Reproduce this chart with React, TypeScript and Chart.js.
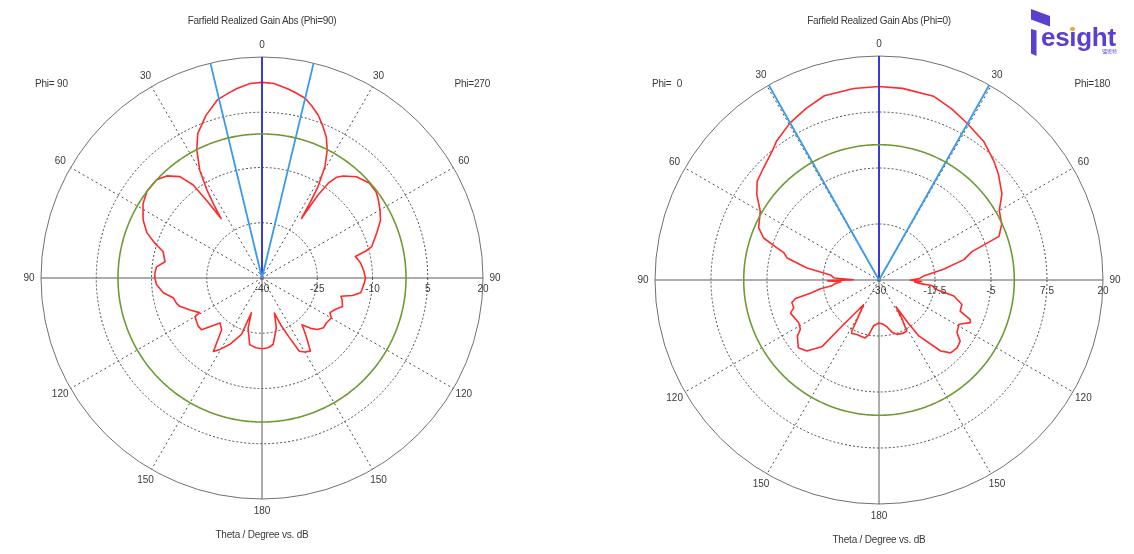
import React, { useEffect, useRef } from 'react';
import { Chart, registerables } from 'chart.js';

Chart.register(...registerables);

// ---------- shared ----------
const STEP = 0.5; // degrees per radar slot
const SLOTS = 720;
const ANGLE_TICKS = [0, 30, 60, 90, 120, 150, 180];

// ---------- left plot: Farfield Realized Gain Abs (Phi=90) ----------
const leftTitle = 'Farfield Realized Gain Abs (Phi=90)';
const leftPhiLeft = 'Phi= 90';
const leftPhiRight = 'Phi=270';
const leftTicks = [-40, -25, -10, 5, 20];
const leftTickLabels = ['-40', '-25', '-10', '5', '20'];
// right half of the plot (Phi=270)
const leftPhi270Theta = [0, 3.5, 7.5, 10, 13.5, 16, 19, 21.5, 24.5, 27, 29.5, 31.5, 32.5, 33.5, 34, 35, 36.5, 38.5, 43, 48.5, 53, 56, 60, 64, 68.5, 74, 75.5, 77, 79, 81.5, 86, 90, 93, 98.5, 101, 103, 105, 109.5, 113, 117, 120, 125, 129, 133, 136, 139.5, 141.5, 143.5, 146.5, 150, 153, 155.5, 158, 160.5, 164, 170.5, 175, 180];
const leftPhi270Gain = [13.1, 12.9, 11.9, 11.2, 10.2, 8.7, 6.8, 4.7, 2.1, -1.0, -5.3, -10.9, -15.5, -20.6, -13.0, -8.5, -6.0, -4.6, -2.4, -1.1, -1.2, -1.9, -3.0, -4.2, -6.5, -9.0, -11.0, -14.0, -13.5, -12.9, -12.3, -11.9, -12.2, -12.9, -15.0, -18.0, -17.5, -16.8, -18.3, -19.3, -18.3, -18.7, -18.5, -19.5, -21.0, -23.3, -21.5, -19.5, -16.2, -16.8, -17.7, -22.5, -26.0, -29.9, -25.9, -21.7, -21.0, -20.8];
// left half of the plot (Phi=90)
const leftPhi90Theta = [0, 3.5, 7.5, 10, 14, 19, 24, 27, 30, 32, 33.5, 34.5, 35.5, 36.5, 39, 43, 47, 53, 58, 64, 68.5, 72, 75, 80.5, 84, 87, 90, 93.5, 98.5, 102.5, 106.5, 109, 114, 119, 120, 127, 130.5, 137, 142, 146.5, 149.5, 154, 160, 163, 164.5, 169.5, 175, 180];
const leftPhi90Gain = [13.1, 12.9, 11.9, 11.1, 9.9, 6.7, 2.9, -1.0, -6.2, -11.7, -16.8, -20.4, -14.6, -8.6, -4.6, -2.1, -0.9, -0.9, -1.9, -4.1, -6.4, -9.4, -12.2, -13.3, -11.2, -10.9, -10.9, -11.3, -12.9, -15.3, -15.8, -16.4, -18.6, -20.6, -19.0, -18.3, -18.4, -23.3, -22.2, -16.1, -17.5, -19.9, -23.7, -30.1, -25.9, -21.6, -21.0, -20.8];
const leftMainLobeDir = 0;
const leftHalfPowerDirs = [13.5, -13.5];
const leftSideLobeLevel = -0.9;

// ---------- right plot: Farfield Realized Gain Abs (Phi=0) ----------
const rightTitle = 'Farfield Realized Gain Abs (Phi=0)';
const rightPhiLeft = 'Phi=  0';
const rightPhiRight = 'Phi=180';
const rightTicks = [-30, -17.5, -5, 7.5, 20];
const rightTickLabels = ['-30', '-17.5', '-5', '7.5', '20'];
// right half of the plot (Phi=180)
const rightPhi180Theta = [0, 7, 16.5, 23, 29, 37, 44, 48.5, 55, 60, 65.5, 70, 71.5, 73, 76.5, 80.5, 85, 88, 90.5, 92, 93, 95, 96, 99.5, 102, 106.5, 111, 113.5, 115, 119, 124, 127, 131, 135.5, 139, 144.5, 146, 147.5, 149.5, 151.5, 156.5, 161.5, 166, 170, 174, 180];
const rightPhi180Gain = [13.2, 13.1, 12.8, 11.5, 10.2, 8.8, 6.9, 5.6, 3.5, 1.0, 0.1, -1.5, -5.3, -8.3, -10.5, -15.4, -20.0, -21.0, -23.0, -20.5, -22.0, -20.7, -18.1, -16.9, -12.9, -10.7, -10.6, -7.8, -7.5, -9.6, -9.0, -7.3, -6.9, -7.2, -9.0, -14.6, -18.6, -22.9, -19.8, -17.0, -17.0, -17.2, -18.0, -19.3, -20.0, -20.4];
// left half of the plot (Phi=0)
const rightPhi0Theta = [0, 7.5, 16.5, 23, 29.5, 36.5, 39.5, 46, 51, 55, 60, 66.5, 70, 72.5, 74, 76.5, 80.5, 84, 87.5, 89.5, 91, 92.5, 95, 97, 98.5, 101, 102.5, 104.5, 108, 110.5, 118, 122, 124.5, 130, 134.5, 139.5, 141.5, 148, 151, 152, 153, 158, 162, 166.5, 169.5, 173.5, 180];
const rightPhi0Gain = [13.2, 13.1, 12.9, 11.6, 10.3, 8.5, 7.4, 5.9, 5.0, 3.3, 0.6, -0.7, -2.6, -6.1, -7.9, -8.9, -13.7, -19.1, -20.0, -24.3, -18.5, -21.5, -20.0, -19.4, -16.8, -14.4, -10.9, -9.9, -10.0, -8.9, -9.7, -9.3, -7.9, -6.5, -7.4, -10.5, -17.3, -23.5, -19.9, -17.1, -16.6, -16.9, -16.8, -16.7, -17.6, -19.8, -20.4];
const rightMainLobeDir = 0;
const rightHalfPowerDirs = [29.5, -29.5];
const rightSideLobeLevel = 0.2;

// ---------- colours / fonts ----------
const RED = '#ff2b2b';
const MAIN_BLUE = '#2f2fe0';
const LIGHT_BLUE = '#3a9ae8';
const GREEN = '#6f9a35';
const TEXT = '#3a3a3a';
const LOGO = '#5b3fd0';
const FONT = '"Liberation Sans", Arial, sans-serif';

// screen angle (deg, clockwise from top) -> radar slot
const slot = (deg: number) => ((Math.round(deg / STEP) % SLOTS) + SLOTS) % SLOTS;

function buildCut(rTheta: number[], rGain: number[], lTheta: number[], lGain: number[]) {
  const arr: (number | null)[] = new Array(SLOTS).fill(null);
  rTheta.forEach((t, i) => { arr[slot(t)] = rGain[i]; });
  lTheta.forEach((t, i) => { arr[slot(-t)] = lGain[i]; });
  return arr;
}

function buildRay(deg: number, min: number, max: number) {
  const arr: (number | null)[] = new Array(SLOTS).fill(null);
  const k = slot(deg);
  arr[k] = max;
  arr[(k + 1) % SLOTS] = min;
  return arr;
}

const polarTextPlugin = {
  id: 'polarText',
  afterDatasetsDraw(chart: any, _args: any, opts: any) {
    const s: any = chart.scales.r;
    const ctx = chart.ctx;
    ctx.save();
    ctx.font = `10px ${FONT}`;
    ctx.fillStyle = TEXT;
    ctx.textAlign = 'center';
    ctx.textBaseline = 'middle';
    (opts.ticks as number[]).forEach((v, i) => {
      ctx.fillText(opts.tickLabels[i], s.xCenter + s.getDistanceFromCenterForValue(v), s.yCenter + 11);
    });
    ANGLE_TICKS.forEach((a) => {
      const dirs = a === 0 || a === 180 ? [a] : [a, -a];
      dirs.forEach((d) => {
        const p = s.getPointPosition(slot(d), s.drawingArea + 12);
        ctx.fillText(String(a), p.x, p.y);
      });
    });
    ctx.restore();
  },
};

type PlotCfg = {
  left: number;
  padding: { left: number; right: number; top: number; bottom: number };
  ticks: number[];
  tickLabels: string[];
  rTheta: number[];
  rGain: number[];
  lTheta: number[];
  lGain: number[];
  mainDir: number;
  halfPowerDirs: number[];
  sideLobe: number;
};

function PolarPlot({ cfg }: { cfg: PlotCfg }) {
  const ref = useRef<HTMLCanvasElement>(null);
  useEffect(() => {
    const min = cfg.ticks[0];
    const max = cfg.ticks[cfg.ticks.length - 1];
    const labels = Array.from({ length: SLOTS }, (_, i) => String(i * STEP));
    const lineDs = (data: (number | null)[], color: string, width: number, spanGaps: boolean) => ({
      data,
      borderColor: color,
      backgroundColor: color,
      borderWidth: width,
      pointRadius: 0,
      fill: false,
      spanGaps,
      tension: 0,
      borderJoinStyle: 'round',
    });
    const chart = new Chart(ref.current as HTMLCanvasElement, {
      type: 'radar',
      data: {
        labels,
        datasets: [
          lineDs(new Array(SLOTS).fill(cfg.sideLobe), GREEN, 1.6, true),
          ...cfg.halfPowerDirs.map((d) => lineDs(buildRay(d, min, max), LIGHT_BLUE, 1.8, false)),
          lineDs(buildRay(cfg.mainDir, min, max), MAIN_BLUE, 1.8, false),
          lineDs(buildCut(cfg.rTheta, cfg.rGain, cfg.lTheta, cfg.lGain), RED, 1.6, true),
        ] as any,
      },
      options: {
        responsive: false,
        animation: false,
        devicePixelRatio: 1,
        events: [],
        layout: { padding: cfg.padding },
        plugins: {
          legend: { display: false },
          tooltip: { enabled: false },
          polarText: { ticks: cfg.ticks, tickLabels: cfg.tickLabels },
        } as any,
        scales: {
          r: {
            min,
            max,
            beginAtZero: false,
            ticks: { display: false, stepSize: cfg.ticks[1] - cfg.ticks[0] },
            pointLabels: { display: false },
            grid: {
              circular: true,
              color: (c: any) => (c.tick && c.tick.value === max ? '#707070' : '#4a4a4a'),
              lineWidth: 1,
            },
            border: {
              dash: (c: any) => (c.tick && c.tick.value === max ? [] : [2, 2]),
            },
            angleLines: {
              display: true,
              color: (c: any) => (c.index % 60 === 0 ? (c.index % 180 === 0 ? '#5a5a5a' : '#4a4a4a') : 'rgba(0,0,0,0)'),
              lineWidth: (c: any) => (c.index % 60 === 0 ? 1 : 0),
              borderDash: (c: any) => (c.index % 180 === 0 ? [] : [2, 3]),
            },
          } as any,
        },
      },
      plugins: [polarTextPlugin as any],
    });
    return () => chart.destroy();
  }, []);
  return (
    <canvas
      ref={ref}
      width={567}
      height={554}
      style={{ position: 'absolute', left: cfg.left, top: 0, width: 567, height: 554 }}
    />
  );
}

function Label({ x, y, text, align = 'center', size = 10, spacing = 0 }: { x: number; y: number; text: string; align?: string; size?: number; spacing?: number }) {
  const tx = align === 'center' ? '-50%' : align === 'right' ? '-100%' : '0';
  return (
    <div
      style={{
        position: 'absolute',
        left: x,
        top: y,
        transform: `translate(${tx}, -50%)`,
        whiteSpace: 'pre',
        font: `${size}px ${FONT}`,
        letterSpacing: `${spacing}px`,
        lineHeight: '1',
        color: TEXT,
      }}
    >
      {text}
    </div>
  );
}

export default function App() {
  const leftCfg: PlotCfg = {
    left: 0,
    padding: { left: 41, right: 84, top: 57, bottom: 55 },
    ticks: leftTicks,
    tickLabels: leftTickLabels,
    rTheta: leftPhi270Theta,
    rGain: leftPhi270Gain,
    lTheta: leftPhi90Theta,
    lGain: leftPhi90Gain,
    mainDir: leftMainLobeDir,
    halfPowerDirs: leftHalfPowerDirs,
    sideLobe: leftSideLobeLevel,
  };
  const rightCfg: PlotCfg = {
    left: 567,
    padding: { left: 88, right: 31, top: 56, bottom: 50 },
    ticks: rightTicks,
    tickLabels: rightTickLabels,
    rTheta: rightPhi180Theta,
    rGain: rightPhi180Gain,
    lTheta: rightPhi0Theta,
    lGain: rightPhi0Gain,
    mainDir: rightMainLobeDir,
    halfPowerDirs: rightHalfPowerDirs,
    sideLobe: rightSideLobeLevel,
  };
  return (
    <div style={{ position: 'absolute', left: 0, top: 0, width: 1134, height: 554, background: '#fff', overflow: 'hidden' }}>
      <PolarPlot cfg={leftCfg} />
      <PolarPlot cfg={rightCfg} />
      <Label x={262} y={21} text={leftTitle} spacing={-0.3} />
      <Label x={879} y={21} text={rightTitle} spacing={-0.3} />
      <Label x={35} y={84} text={leftPhiLeft} align="left" spacing={-0.2} />
      <Label x={490} y={84} text={leftPhiRight} align="right" spacing={-0.2} />
      <Label x={652} y={84} text={rightPhiLeft} align="left" spacing={-0.2} />
      <Label x={1110} y={84} text={rightPhiRight} align="right" spacing={-0.2} />
      <Label x={262} y={535} text="Theta / Degree vs. dB" spacing={-0.2} />
      <Label x={879} y={540} text="Theta / Degree vs. dB" spacing={-0.2} />
      {/* logo */}
      <svg width={1134} height={60} style={{ position: 'absolute', left: 0, top: 0 }}>
        <polygon points="1031,9 1050,16 1050,26.5 1031,19.5" fill={LOGO} />
        <polygon points="1031,29 1036.5,30.5 1036.5,56 1031,53.5" fill={LOGO} />
      </svg>
      <div
        style={{
          position: 'absolute',
          left: 1041,
          top: 25,
          font: `bold 26px ${FONT}`,
          lineHeight: '25px',
          color: LOGO,
          whiteSpace: 'pre',
          letterSpacing: '-0.3px',
        }}
      >
        es
        <span style={{ position: 'relative' }}>
          {'\u0131'}
          <span
            style={{
              position: 'absolute',
              left: '50%',
              top: 4.5,
              width: 4.5,
              height: 4.5,
              marginLeft: -2.4,
              borderRadius: '50%',
              background: '#f6a623',
            }}
          />
        </span>
        ght
      </div>
      <div
        style={{
          position: 'absolute',
          left: 1102,
          top: 48,
          font: '5px "Noto Sans CJK SC", sans-serif',
          lineHeight: '1',
          color: LOGO,
          whiteSpace: 'pre',
        }}
      >
        镭思特
      </div>
    </div>
  );
}
